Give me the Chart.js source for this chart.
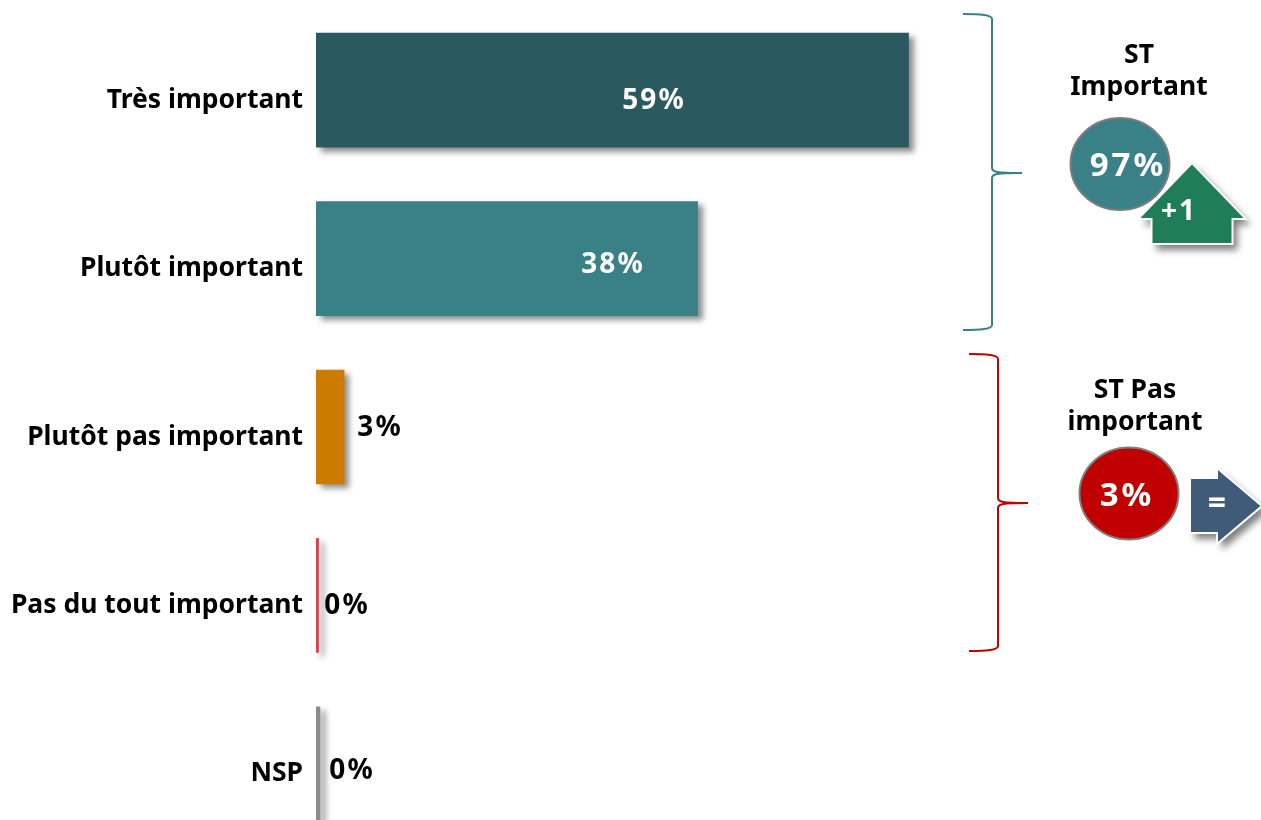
<!DOCTYPE html>
<html lang="fr"><head><meta charset="utf-8">
<style>html,body{margin:0;padding:0;background:#fff;overflow:hidden;width:1261px;height:820px}
#w{position:absolute;left:0;top:0;width:1261px;height:848px}</style>
<script src="https://cdn.jsdelivr.net/npm/chart.js@4"></script></head>
<body><div id="w"><canvas id="c" width="1261" height="848"></canvas></div>
<script>
const categories = ["Très important","Plutôt important","Plutôt pas important","Pas du tout important","NSP"];
const values = [59,38,2.8,0.25,0.4];
const valueLabels = ["59%","38%","3%","0%","0%"];
const barColors = ["#2A5A5F","#3A8087","#CC7A00","#D8404A","#8C8C8C"];
const labelColors = ["#fff","#fff","#000","#000","#000"];
const summaryTitles = [["ST","Important"],["ST Pas","important"]];
const summaryValues = ["97%","3%"];
const summaryDeltas = ["+1","="];

const FONT = '"Noto Sans"';
const labelPos = [[654,99],[613,263],[380,426],[347,604],[352,769]];

function brace(ctx,x0,xs,xt,y0,ym,y1,col){
  ctx.save();ctx.strokeStyle=col;ctx.lineWidth=2;ctx.beginPath();
  ctx.moveTo(x0,y0);ctx.bezierCurveTo(x0+18,y0,xs,y0+1,xs,y0+5);
  ctx.lineTo(xs,ym-5);ctx.bezierCurveTo(xs,ym-1,xs+4,ym,xt,ym);
  ctx.bezierCurveTo(xs+4,ym,xs,ym+1,xs,ym+5);
  ctx.lineTo(xs,y1-5);ctx.bezierCurveTo(xs,y1-1,x0+18,y1,x0,y1);
  ctx.stroke();ctx.restore();
}
function txt(ctx,s,x,y,size,col,spacing){
  ctx.save();ctx.font=`bold ${size}px ${FONT}`;ctx.fillStyle=col;ctx.textAlign='center';ctx.textBaseline='middle';
  ctx.letterSpacing=(spacing||0)+'px';
  ctx.fillText(s,x,y+2);ctx.restore();
}
function circle(ctx,x,y,rx,ry,fill){
  ctx.save();ctx.beginPath();ctx.ellipse(x,y,rx,ry,0,0,Math.PI*2);ctx.fillStyle=fill;ctx.fill();
  ctx.strokeStyle='#7F7F7F';ctx.lineWidth=2;ctx.stroke();ctx.restore();
}
function poly(ctx,pts,fill){
  ctx.save();ctx.shadowColor='rgba(0,0,0,.5)';ctx.shadowBlur=7;ctx.shadowOffsetX=5;ctx.shadowOffsetY=6;
  ctx.beginPath();pts.forEach((p,i)=>i?ctx.lineTo(p[0],p[1]):ctx.moveTo(p[0],p[1]));ctx.closePath();
  ctx.fillStyle=fill;ctx.fill();ctx.shadowColor='transparent';
  ctx.strokeStyle='#fff';ctx.lineWidth=2;ctx.stroke();ctx.restore();
}
const overlay={id:'overlay',
  beforeDatasetsDraw(ch){const c=ch.ctx;c.save();c.shadowColor='rgba(0,0,0,.45)';c.shadowBlur=6;c.shadowOffsetX=5;c.shadowOffsetY=4;},
  afterDatasetsDraw(ch){const c=ch.ctx;c.restore();
    valueLabels.forEach((s,i)=>txt(c,s,labelPos[i][0],labelPos[i][1],28,labelColors[i],2));
    brace(c,963,992,1022,14,173,330,'#3A8087');
    brace(c,969,998,1028,354,503,651,'#C00000');
    txt(c,summaryTitles[0][0],1139,53,26.5,'#000');txt(c,summaryTitles[0][1],1139,85,26.5,'#000');
    txt(c,summaryTitles[1][0],1135,388,26.5,'#000');txt(c,summaryTitles[1][1],1135,420,26.5,'#000');
    circle(c,1120,164,49.5,46,'#3A8087');
    txt(c,summaryValues[0],1128,165,33,'#fff',3);
    poly(c,[[1192,163],[1246,219],[1232.5,219],[1232.5,244],[1151.5,244],[1151.5,219],[1138,219]],'#1F7D58');
    txt(c,summaryDeltas[0],1179,210,28,'#fff',2);
    circle(c,1129,493.5,49.5,46,'#C00000');
    txt(c,summaryValues[1],1127,495,33,'#fff',3);
    poly(c,[[1190,478],[1217,478],[1217,468],[1262,506],[1217,544],[1217,533],[1190,533]],'#3F5B78');
    txt(c,summaryDeltas[1],1217,503,32,'#fff');
  }};
new Chart(document.getElementById('c'),{type:'bar',
  data:{labels:categories,datasets:[{data:values,backgroundColor:barColors,borderWidth:0,barThickness:114}]},
  options:{indexAxis:'y',responsive:false,animation:false,devicePixelRatio:1,
    layout:{padding:{top:6,bottom:0,left:0,right:1}},
    plugins:{legend:{display:false},tooltip:{enabled:false},title:{display:false}},
    scales:{
      x:{display:false,min:0,max:94},
      y:{afterFit(s){s.width=316;s.paddingTop=0;s.paddingBottom=0;},grid:{display:false,drawTicks:false},border:{display:false},
         ticks:{color:'#000',padding:13,labelOffset:10,font:{family:FONT,weight:'bold',size:26.5},autoSkip:false}}
    }},
  plugins:[overlay]});
</script></body></html>
